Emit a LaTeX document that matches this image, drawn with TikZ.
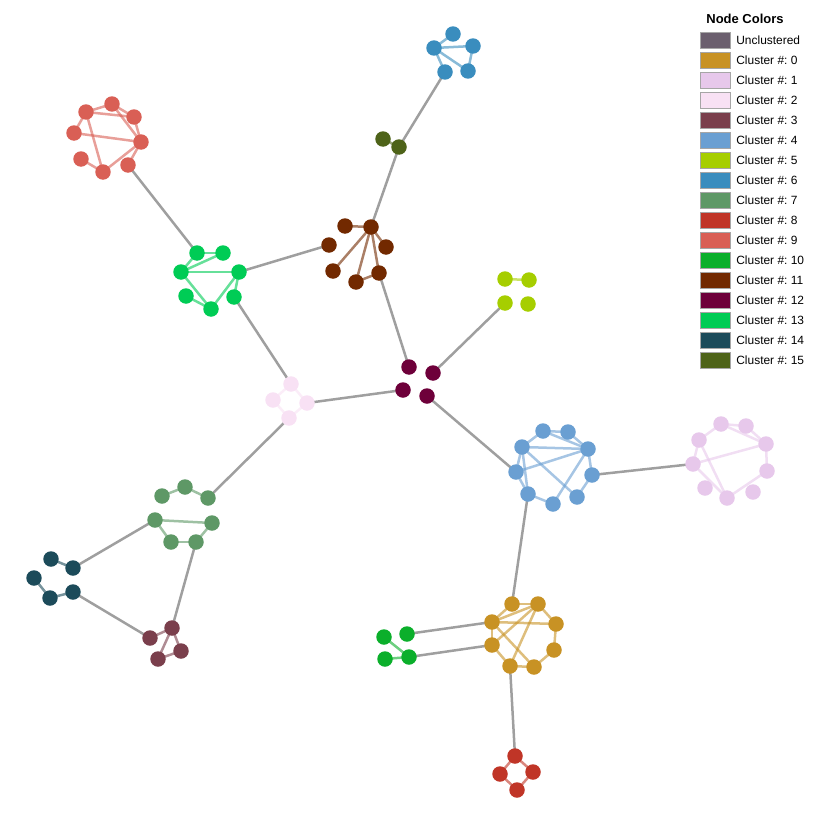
\documentclass[tikz,border=0pt]{standalone}
\usepackage{fontspec}
\setmainfont{Liberation Sans}
\usepackage{tikz}
\usetikzlibrary{shapes}
\pgfdeclarelayer{edgelayer}
\pgfdeclarelayer{nodelayer}
\pgfsetlayers{edgelayer,nodelayer,main}
\frenchspacing
\definecolor{cun}{RGB}{107,95,110}
\definecolor{ca}{RGB}{200,146,36}
\definecolor{cb}{RGB}{231,200,235}
\definecolor{cc}{RGB}{248,225,244}
\definecolor{cd}{RGB}{122,63,76}
\definecolor{ce}{RGB}{106,159,210}
\definecolor{cf}{RGB}{166,206,0}
\definecolor{cg}{RGB}{58,141,190}
\definecolor{ch}{RGB}{94,152,102}
\definecolor{ci}{RGB}{192,53,39}
\definecolor{cj}{RGB}{217,95,85}
\definecolor{ck}{RGB}{11,175,43}
\definecolor{cl}{RGB}{114,41,0}
\definecolor{cm}{RGB}{110,0,58}
\definecolor{cn}{RGB}{0,204,85}
\definecolor{co}{RGB}{28,75,90}
\definecolor{cp}{RGB}{78,99,25}
\tikzstyle{none}=[inner sep=0pt]
\tikzstyle{dot}=[circle,inner sep=0pt,minimum size=0.31cm]
\tikzstyle{link}=[line width=0.05cm,draw=gray!75]
\tikzstyle{inner}=[line width=0.05cm,draw opacity=0.6]
\tikzstyle{swatch}=[rectangle,draw=gray!70,line width=0.5pt,minimum width=0.6cm,minimum height=0.32cm,inner sep=0pt]
\tikzstyle{key}=[inner sep=0pt,anchor=west,font=\fontsize{6.8pt}{8pt}\selectfont]

\begin{document}
\frenchspacing
\begin{tikzpicture}[x=0.02cm,y=-0.02cm]
	\useasboundingbox (0,0) rectangle (817,818);
	\begin{pgfonlayer}{nodelayer}
		% cluster 9
		\node [style=dot,fill=cj] (0) at (86, 112) {};
		\node [style=dot,fill=cj] (1) at (112, 104) {};
		\node [style=dot,fill=cj] (2) at (134, 117) {};
		\node [style=dot,fill=cj] (3) at (74, 133) {};
		\node [style=dot,fill=cj] (4) at (141, 142) {};
		\node [style=dot,fill=cj] (5) at (81, 159) {};
		\node [style=dot,fill=cj] (6) at (103, 172) {};
		\node [style=dot,fill=cj] (7) at (128, 165) {};
		% cluster 13
		\node [style=dot,fill=cn] (8) at (197, 253) {};
		\node [style=dot,fill=cn] (9) at (223, 253) {};
		\node [style=dot,fill=cn] (10) at (181, 272) {};
		\node [style=dot,fill=cn] (11) at (239, 272) {};
		\node [style=dot,fill=cn] (12) at (186, 296) {};
		\node [style=dot,fill=cn] (13) at (211, 309) {};
		\node [style=dot,fill=cn] (14) at (234, 297) {};
		% cluster 11
		\node [style=dot,fill=cl] (15) at (345, 226) {};
		\node [style=dot,fill=cl] (16) at (371, 227) {};
		\node [style=dot,fill=cl] (17) at (329, 245) {};
		\node [style=dot,fill=cl] (18) at (386, 247) {};
		\node [style=dot,fill=cl] (19) at (333, 271) {};
		\node [style=dot,fill=cl] (20) at (356, 282) {};
		\node [style=dot,fill=cl] (21) at (379, 273) {};
		% cluster 15
		\node [style=dot,fill=cp] (22) at (383, 139) {};
		\node [style=dot,fill=cp] (23) at (399, 147) {};
		% cluster 6
		\node [style=dot,fill=cg] (24) at (453, 34) {};
		\node [style=dot,fill=cg] (25) at (434, 48) {};
		\node [style=dot,fill=cg] (26) at (473, 46) {};
		\node [style=dot,fill=cg] (27) at (445, 72) {};
		\node [style=dot,fill=cg] (28) at (468, 71) {};
		% cluster 12
		\node [style=dot,fill=cm] (29) at (409, 367) {};
		\node [style=dot,fill=cm] (30) at (433, 373) {};
		\node [style=dot,fill=cm] (31) at (403, 390) {};
		\node [style=dot,fill=cm] (32) at (427, 396) {};
		% cluster 5
		\node [style=dot,fill=cf] (33) at (505, 279) {};
		\node [style=dot,fill=cf] (34) at (529, 280) {};
		\node [style=dot,fill=cf] (35) at (505, 303) {};
		\node [style=dot,fill=cf] (36) at (528, 304) {};
		% cluster 2
		\node [style=dot,fill=cc] (37) at (291, 384) {};
		\node [style=dot,fill=cc] (38) at (273, 400) {};
		\node [style=dot,fill=cc] (39) at (307, 403) {};
		\node [style=dot,fill=cc] (40) at (289, 418) {};
		% cluster 7
		\node [style=dot,fill=ch] (41) at (162, 496) {};
		\node [style=dot,fill=ch] (42) at (185, 487) {};
		\node [style=dot,fill=ch] (43) at (208, 498) {};
		\node [style=dot,fill=ch] (44) at (155, 520) {};
		\node [style=dot,fill=ch] (45) at (212, 523) {};
		\node [style=dot,fill=ch] (46) at (171, 542) {};
		\node [style=dot,fill=ch] (47) at (196, 542) {};
		% cluster 14
		\node [style=dot,fill=co] (48) at (51, 559) {};
		\node [style=dot,fill=co] (49) at (73, 568) {};
		\node [style=dot,fill=co] (50) at (34, 578) {};
		\node [style=dot,fill=co] (51) at (50, 598) {};
		\node [style=dot,fill=co] (52) at (73, 592) {};
		% cluster 3
		\node [style=dot,fill=cd] (53) at (150, 638) {};
		\node [style=dot,fill=cd] (54) at (172, 628) {};
		\node [style=dot,fill=cd] (55) at (181, 651) {};
		\node [style=dot,fill=cd] (56) at (158, 659) {};
		% cluster 4
		\node [style=dot,fill=ce] (57) at (543, 431) {};
		\node [style=dot,fill=ce] (58) at (568, 432) {};
		\node [style=dot,fill=ce] (59) at (522, 447) {};
		\node [style=dot,fill=ce] (60) at (588, 449) {};
		\node [style=dot,fill=ce] (61) at (516, 472) {};
		\node [style=dot,fill=ce] (62) at (592, 475) {};
		\node [style=dot,fill=ce] (63) at (528, 494) {};
		\node [style=dot,fill=ce] (64) at (553, 504) {};
		\node [style=dot,fill=ce] (65) at (577, 497) {};
		% cluster 1
		\node [style=dot,fill=cb] (66) at (721, 424) {};
		\node [style=dot,fill=cb] (67) at (746, 426) {};
		\node [style=dot,fill=cb] (68) at (699, 440) {};
		\node [style=dot,fill=cb] (69) at (766, 444) {};
		\node [style=dot,fill=cb] (70) at (693, 464) {};
		\node [style=dot,fill=cb] (71) at (767, 471) {};
		\node [style=dot,fill=cb] (72) at (705, 488) {};
		\node [style=dot,fill=cb] (73) at (727, 498) {};
		\node [style=dot,fill=cb] (74) at (753, 492) {};
		% cluster 0
		\node [style=dot,fill=ca] (75) at (512, 604) {};
		\node [style=dot,fill=ca] (76) at (538, 604) {};
		\node [style=dot,fill=ca] (77) at (492, 622) {};
		\node [style=dot,fill=ca] (78) at (556, 624) {};
		\node [style=dot,fill=ca] (79) at (492, 645) {};
		\node [style=dot,fill=ca] (80) at (554, 650) {};
		\node [style=dot,fill=ca] (81) at (510, 666) {};
		\node [style=dot,fill=ca] (82) at (534, 667) {};
		% cluster 10
		\node [style=dot,fill=ck] (83) at (384, 637) {};
		\node [style=dot,fill=ck] (84) at (407, 634) {};
		\node [style=dot,fill=ck] (85) at (385, 659) {};
		\node [style=dot,fill=ck] (86) at (409, 657) {};
		% cluster 8
		\node [style=dot,fill=ci] (87) at (515, 756) {};
		\node [style=dot,fill=ci] (88) at (500, 774) {};
		\node [style=dot,fill=ci] (89) at (533, 772) {};
		\node [style=dot,fill=ci] (90) at (517, 790) {};
		% legend
		\node [style=none,font=\bfseries\fontsize{7.4pt}{9pt}\selectfont] (91) at (745, 19) {Node Colors};
		\node [style=swatch,fill=cun] (92) at (715, 40) {};
		\node [style=swatch,fill=ca] (93) at (715, 60) {};
		\node [style=swatch,fill=cb] (94) at (715, 80) {};
		\node [style=swatch,fill=cc] (95) at (715, 100) {};
		\node [style=swatch,fill=cd] (96) at (715, 120) {};
		\node [style=swatch,fill=ce] (97) at (715, 140) {};
		\node [style=swatch,fill=cf] (98) at (715, 160) {};
		\node [style=swatch,fill=cg] (99) at (715, 180) {};
		\node [style=swatch,fill=ch] (100) at (715, 200) {};
		\node [style=swatch,fill=ci] (101) at (715, 220) {};
		\node [style=swatch,fill=cj] (102) at (715, 240) {};
		\node [style=swatch,fill=ck] (103) at (715, 260) {};
		\node [style=swatch,fill=cl] (104) at (715, 280) {};
		\node [style=swatch,fill=cm] (105) at (715, 300) {};
		\node [style=swatch,fill=cn] (106) at (715, 320) {};
		\node [style=swatch,fill=co] (107) at (715, 340) {};
		\node [style=swatch,fill=cp] (108) at (715, 360) {};
		\node [style=key] (109) at (736, 40) {Unclustered};
		\node [style=key] (110) at (736, 60) {Cluster \#: 0};
		\node [style=key] (111) at (736, 80) {Cluster \#: 1};
		\node [style=key] (112) at (736, 100) {Cluster \#: 2};
		\node [style=key] (113) at (736, 120) {Cluster \#: 3};
		\node [style=key] (114) at (736, 140) {Cluster \#: 4};
		\node [style=key] (115) at (736, 160) {Cluster \#: 5};
		\node [style=key] (116) at (736, 180) {Cluster \#: 6};
		\node [style=key] (117) at (736, 200) {Cluster \#: 7};
		\node [style=key] (118) at (736, 220) {Cluster \#: 8};
		\node [style=key] (119) at (736, 240) {Cluster \#: 9};
		\node [style=key] (120) at (736, 260) {Cluster \#: 10};
		\node [style=key] (121) at (736, 280) {Cluster \#: 11};
		\node [style=key] (122) at (736, 300) {Cluster \#: 12};
		\node [style=key] (123) at (736, 320) {Cluster \#: 13};
		\node [style=key] (124) at (736, 340) {Cluster \#: 14};
		\node [style=key] (125) at (736, 360) {Cluster \#: 15};
	\end{pgfonlayer}
	\begin{pgfonlayer}{edgelayer}
		% between clusters
		\draw [style=link] (7.center) to (8.center);
		\draw [style=link] (11.center) to (17.center);
		\draw [style=link] (14.center) to (37.center);
		\draw [style=link] (16.center) to (23.center);
		\draw [style=link] (27.center) to (23.center);
		\draw [style=link] (21.center) to (29.center);
		\draw [style=link] (30.center) to (35.center);
		\draw [style=link] (39.center) to (31.center);
		\draw [style=link] (32.center) to (61.center);
		\draw [style=link] (40.center) to (43.center);
		\draw [style=link] (44.center) to (49.center);
		\draw [style=link] (47.center) to (54.center);
		\draw [style=link] (52.center) to (53.center);
		\draw [style=link] (62.center) to (70.center);
		\draw [style=link] (63.center) to (75.center);
		\draw [style=link] (77.center) to (84.center);
		\draw [style=link] (79.center) to (86.center);
		\draw [style=link] (81.center) to (87.center);
		% inside clusters
		\draw [style=inner,draw=cj] (0.center) to (1.center);
		\draw [style=inner,draw=cj] (0.center) to (2.center);
		\draw [style=inner,draw=cj] (1.center) to (2.center);
		\draw [style=inner,draw=cj] (1.center) to (4.center);
		\draw [style=inner,draw=cj] (2.center) to (4.center);
		\draw [style=inner,draw=cj] (0.center) to (3.center);
		\draw [style=inner,draw=cj] (3.center) to (4.center);
		\draw [style=inner,draw=cj] (0.center) to (6.center);
		\draw [style=inner,draw=cj] (5.center) to (6.center);
		\draw [style=inner,draw=cj] (6.center) to (4.center);
		\draw [style=inner,draw=cj] (4.center) to (7.center);
		\draw [style=inner,draw=cn] (8.center) to (9.center);
		\draw [style=inner,draw=cn] (10.center) to (8.center);
		\draw [style=inner,draw=cn] (10.center) to (9.center);
		\draw [style=inner,draw=cn] (10.center) to (11.center);
		\draw [style=inner,draw=cn] (10.center) to (13.center);
		\draw [style=inner,draw=cn] (12.center) to (13.center);
		\draw [style=inner,draw=cn] (11.center) to (13.center);
		\draw [style=inner,draw=cn] (11.center) to (14.center);
		\draw [style=inner,draw=cl] (15.center) to (16.center);
		\draw [style=inner,draw=cl] (16.center) to (18.center);
		\draw [style=inner,draw=cl] (16.center) to (19.center);
		\draw [style=inner,draw=cl] (16.center) to (20.center);
		\draw [style=inner,draw=cl] (16.center) to (21.center);
		\draw [style=inner,draw=cl] (20.center) to (21.center);
		\draw [style=inner,draw=cp] (22.center) to (23.center);
		\draw [style=inner,draw=cg] (24.center) to (25.center);
		\draw [style=inner,draw=cg] (25.center) to (26.center);
		\draw [style=inner,draw=cg] (26.center) to (28.center);
		\draw [style=inner,draw=cg] (25.center) to (27.center);
		\draw [style=inner,draw=cg] (25.center) to (28.center);
		\draw [style=inner,draw=cf] (33.center) to (34.center);
		\draw [style=inner,draw=cc] (37.center) to (38.center);
		\draw [style=inner,draw=cc] (37.center) to (39.center);
		\draw [style=inner,draw=cc] (38.center) to (40.center);
		\draw [style=inner,draw=cc] (39.center) to (40.center);
		\draw [style=inner,draw=ch] (41.center) to (42.center);
		\draw [style=inner,draw=ch] (42.center) to (43.center);
		\draw [style=inner,draw=ch] (44.center) to (45.center);
		\draw [style=inner,draw=ch] (44.center) to (46.center);
		\draw [style=inner,draw=ch] (46.center) to (47.center);
		\draw [style=inner,draw=ch] (45.center) to (47.center);
		\draw [style=inner,draw=co] (48.center) to (49.center);
		\draw [style=inner,draw=co] (50.center) to (51.center);
		\draw [style=inner,draw=co] (51.center) to (52.center);
		\draw [style=inner,draw=cd] (53.center) to (54.center);
		\draw [style=inner,draw=cd] (54.center) to (55.center);
		\draw [style=inner,draw=cd] (54.center) to (56.center);
		\draw [style=inner,draw=cd] (55.center) to (56.center);
		\draw [style=inner,draw=ce] (57.center) to (58.center);
		\draw [style=inner,draw=ce] (57.center) to (59.center);
		\draw [style=inner,draw=ce] (58.center) to (60.center);
		\draw [style=inner,draw=ce] (57.center) to (60.center);
		\draw [style=inner,draw=ce] (59.center) to (60.center);
		\draw [style=inner,draw=ce] (61.center) to (60.center);
		\draw [style=inner,draw=ce] (59.center) to (61.center);
		\draw [style=inner,draw=ce] (59.center) to (63.center);
		\draw [style=inner,draw=ce] (59.center) to (65.center);
		\draw [style=inner,draw=ce] (60.center) to (62.center);
		\draw [style=inner,draw=ce] (62.center) to (65.center);
		\draw [style=inner,draw=ce] (60.center) to (64.center);
		\draw [style=inner,draw=ce] (61.center) to (63.center);
		\draw [style=inner,draw=ce] (63.center) to (64.center);
		\draw [style=inner,draw=cb] (66.center) to (67.center);
		\draw [style=inner,draw=cb] (66.center) to (69.center);
		\draw [style=inner,draw=cb] (67.center) to (69.center);
		\draw [style=inner,draw=cb] (66.center) to (68.center);
		\draw [style=inner,draw=cb] (68.center) to (70.center);
		\draw [style=inner,draw=cb] (70.center) to (69.center);
		\draw [style=inner,draw=cb] (68.center) to (73.center);
		\draw [style=inner,draw=cb] (70.center) to (73.center);
		\draw [style=inner,draw=cb] (69.center) to (71.center);
		\draw [style=inner,draw=cb] (71.center) to (73.center);
		\draw [style=inner,draw=ca] (75.center) to (76.center);
		\draw [style=inner,draw=ca] (75.center) to (77.center);
		\draw [style=inner,draw=ca] (77.center) to (76.center);
		\draw [style=inner,draw=ca] (76.center) to (78.center);
		\draw [style=inner,draw=ca] (77.center) to (78.center);
		\draw [style=inner,draw=ca] (77.center) to (79.center);
		\draw [style=inner,draw=ca] (77.center) to (82.center);
		\draw [style=inner,draw=ca] (76.center) to (81.center);
		\draw [style=inner,draw=ca] (76.center) to (79.center);
		\draw [style=inner,draw=ca] (79.center) to (81.center);
		\draw [style=inner,draw=ca] (81.center) to (82.center);
		\draw [style=inner,draw=ca] (82.center) to (80.center);
		\draw [style=inner,draw=ca] (80.center) to (78.center);
		\draw [style=inner,draw=ck] (83.center) to (86.center);
		\draw [style=inner,draw=ck] (85.center) to (86.center);
		\draw [style=inner,draw=ci] (87.center) to (88.center);
		\draw [style=inner,draw=ci] (87.center) to (89.center);
		\draw [style=inner,draw=ci] (88.center) to (90.center);
		\draw [style=inner,draw=ci] (89.center) to (90.center);
	\end{pgfonlayer}
\end{tikzpicture}
\end{document}
